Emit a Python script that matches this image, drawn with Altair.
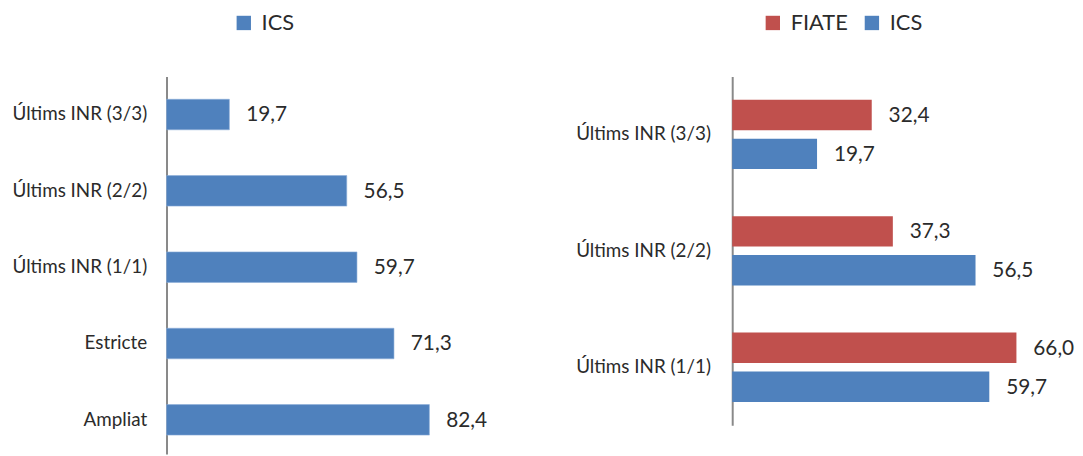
import altair as alt
import pandas as pd

# ---- data ----
left_categories = ["Últims INR (3/3)", "Últims INR (2/2)", "Últims INR (1/1)", "Estricte", "Ampliat"]
left_ics = [19.7, 56.5, 59.7, 71.3, 82.4]

right_categories = ["Últims INR (3/3)", "Últims INR (2/2)", "Últims INR (1/1)"]
right_fiate = [32.4, 37.3, 66.0]
right_ics = [19.7, 56.5, 59.7]

series_names = ["FIATE", "ICS"]
colors = {"FIATE": "#C0504D", "ICS": "#4F81BD"}


def fmt(v):
    return f"{v:.1f}".replace(".", ",")


df_left = pd.DataFrame({
    "cat": left_categories,
    "value": left_ics,
    "series": ["ICS"] * len(left_ics),
    "label": [fmt(v) for v in left_ics],
})

rows = []
for c, f, i in zip(right_categories, right_fiate, right_ics):
    rows.append({"cat": c, "series": "FIATE", "value": f, "label": fmt(f)})
    rows.append({"cat": c, "series": "ICS", "value": i, "label": fmt(i)})
df_right = pd.DataFrame(rows)

FONT = "Lato"
LABEL_COLOR = "#2b2b2b"
AXIS_COLOR = "#898989"


def yaxis(pad, extent):
    return alt.Axis(
        title=None, ticks=False, grid=False,
        labelFont=FONT, labelFontSize=19, labelColor=LABEL_COLOR,
        labelPadding=pad, labelLimit=300,
        domainColor=AXIS_COLOR, domainWidth=2,
        minExtent=extent, maxExtent=extent,
    )


# ---- left panel ----
ly = alt.Y("cat:N", sort=left_categories,
           scale=alt.Scale(paddingInner=0.6, paddingOuter=0.2726, align=0.548),
           axis=yaxis(20, 159))
lx = alt.X("value:Q", scale=alt.Scale(domain=[0, 100]), axis=None)

left_bars = alt.Chart(df_left).mark_bar(stroke="#8EB0DA", strokeWidth=0.6).encode(
    y=ly, x=lx,
    color=alt.Color("series:N",
                    scale=alt.Scale(domain=["ICS"], range=[colors["ICS"]]),
                    legend=alt.Legend(title=None, orient="none", legendX=67, legendY=-65,
                                      symbolType="square", symbolSize=210,
                                      symbolStrokeWidth=0, labelFont=FONT,
                                      labelFontSize=22, labelColor=LABEL_COLOR,
                                      labelOffset=7, padding=0)),
)
left_text = alt.Chart(df_left).mark_text(
    align="left", baseline="middle", dx=17, dy=1, font=FONT, fontSize=21, color=LABEL_COLOR
).encode(y=ly, x=lx, text="label:N")

left = alt.layer(left_bars, left_text).properties(width=322, height=381)

# ---- right panel ----
ry = alt.Y("cat:N", sort=right_categories,
           scale=alt.Scale(paddingInner=0.404, paddingOuter=0.2),
           axis=yaxis(22, 157))
ryo = alt.YOffset("series:N", sort=series_names,
                  scale=alt.Scale(paddingInner=0.22, paddingOuter=0))
rx = alt.X("value:Q", scale=alt.Scale(domain=[0, 75]), axis=None)

right_bars = alt.Chart(df_right).mark_bar(strokeWidth=0.6).encode(
    y=ry, yOffset=ryo, x=rx,
    color=alt.Color("series:N", sort=series_names,
                    scale=alt.Scale(domain=series_names, range=[colors["FIATE"], colors["ICS"]]),
                    legend=alt.Legend(title=None, orient="none", legendX=30, legendY=-65,
                                      direction="horizontal", columnPadding=13,
                                      symbolType="square", symbolSize=210,
                                      symbolStrokeWidth=0, labelFont=FONT,
                                      labelFontSize=22, labelColor=LABEL_COLOR,
                                      labelOffset=7, padding=0)),
)
right_text = alt.Chart(df_right).mark_text(
    align="left", baseline="middle", dx=17, dy=1, font=FONT, fontSize=21, color=LABEL_COLOR
).encode(y=ry, yOffset=ryo, x=rx, text="label:N")

right = alt.layer(right_bars, right_text).properties(width=326, height=352)

chart = alt.hconcat(left, right, spacing=88).resolve_scale(
    color="independent"
).resolve_legend(color="independent").properties(
    padding={"left": 1, "top": 2, "right": 0, "bottom": 0}
).configure_view(stroke=None)

chart.save("out.html", embed_options={"renderer": "svg", "actions": False})
